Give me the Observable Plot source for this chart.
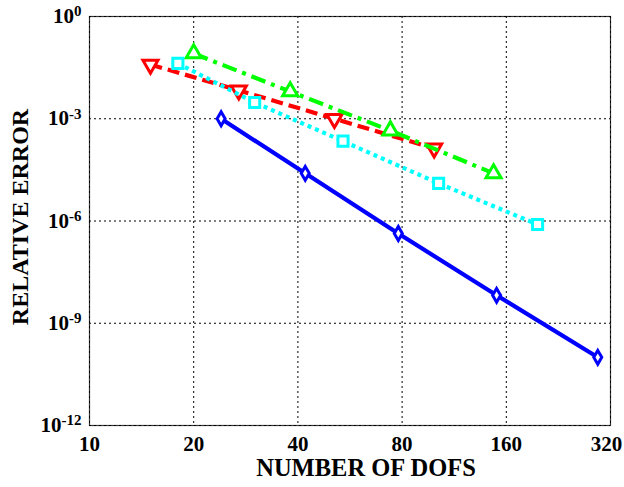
<!DOCTYPE html>
<html>
<head>
<meta charset="utf-8">
<script src="https://cdn.jsdelivr.net/npm/d3@7"></script>
<script src="https://cdn.jsdelivr.net/npm/@observablehq/plot@0.6"></script>
<style>
  html, body { margin: 0; padding: 0; background: #fff; }
  svg { display: block; }
</style>
</head>
<body>
<div id="chart"></div>
<script>
const xTicks = [10, 20, 40, 80, 160, 320];
const yTicks = [1e-12, 1e-9, 1e-6, 1e-3, 1];

const blueX = [24, 42, 78, 150, 294];
const blueY = [1.0e-3, 2.5e-5, 4.3e-7, 6.6e-9, 1.0e-10];
const redX = [15, 27, 51, 99];
const redY = [3.9e-2, 6.8e-3, 1.0e-3, 1.35e-4];
const greenX = [20, 38, 74, 147];
const greenY = [8.2e-2, 6.3e-3, 4.5e-4, 2.5e-5];
const cyanX = [18, 30, 54, 102, 197];
const cyanY = [4.2e-2, 3.0e-3, 2.2e-4, 1.27e-5, 7.9e-7];

const xLabel = "NUMBER OF DOFS";
const yLabel = "RELATIVE ERROR";

const toRows = (xs, ys) => xs.map((x, i) => ({x, y: ys[i]}));
const blue = toRows(blueX, blueY);
const red = toRows(redX, redY);
const green = toRows(greenX, greenY);
const cyan = toRows(cyanX, cyanY);

const series = [
  {data: blue, color: "#0000ff", dash: null, symbol: "diamond", r: 4.2, rotate: 0},
  {data: red, color: "#ff0000", dash: "12,6", symbol: "triangle", r: 5.6, rotate: 180},
  {data: green, color: "#00ff00", dash: "15,6,4,6", symbol: "triangle", r: 5.6, rotate: 0},
  {data: cyan, color: "#00ffff", dash: "4,4", symbol: "square", r: 5.7, rotate: 0}
];

const tickTextOpts = {text: d => String(d), frameAnchor: "bottom", dy: 25,
  lineAnchor: "bottom", textAnchor: "middle", fontSize: 21, fontWeight: "bold"};

const marks = [
  Plot.frame({stroke: "#333", strokeWidth: 1.2}),
  Plot.gridX(xTicks, {stroke: "#000", strokeOpacity: 1, strokeWidth: 1, strokeDasharray: "2,3"}),
  Plot.gridY(yTicks, {stroke: "#000", strokeOpacity: 1, strokeWidth: 1, strokeDasharray: "2,3"}),
  Plot.text(xTicks.slice(0, -1), {x: d => d, ...tickTextOpts}),
  Plot.text(xTicks.slice(-1), {x: d => d, ...tickTextOpts, dx: -4}),
  Plot.axisY(yTicks, {tickSize: 0, tickPadding: 8, tickFormat: d => String(Math.round(Math.log10(d))), fontSize: 21, label: null}),
];
for (const s of series) {
  marks.push(Plot.line(s.data, {x: "x", y: "y", stroke: s.color, strokeWidth: 4.2,
    strokeDasharray: s.dash || undefined, strokeLinecap: "butt", strokeLinejoin: "round"}));
  marks.push(Plot.dot(s.data, {x: "x", y: "y", symbol: s.symbol, r: s.r, rotate: s.rotate,
    stroke: s.color, strokeWidth: 3, fill: "white"}));
}
marks.push(Plot.text([xLabel], {frameAnchor: "bottom", text: d => d, dx: 16, dy: 50,
  lineAnchor: "bottom", textAnchor: "middle", fontSize: 24.5, fontWeight: "bold"}));
marks.push(Plot.text([yLabel], {frameAnchor: "left", text: d => d, dx: -62, dy: -4,
  rotate: -90, lineAnchor: "bottom", textAnchor: "middle", fontSize: 24, fontWeight: "bold"}));

const chart = Plot.plot({
  width: 624,
  height: 487,
  marginLeft: 89,
  marginRight: 14,
  marginTop: 16,
  marginBottom: 62,
  style: {fontFamily: "'Liberation Serif', 'Times New Roman', serif", fontWeight: "bold", color: "#000", background: "#fff"},
  x: {type: "log", domain: [10, 320], axis: null},
  y: {type: "log", domain: [1e-12, 1]},
  marks
});

// Render y tick labels as 10 with a superscript exponent
d3.select(chart).selectAll('g[aria-label="y-axis tick label"] text').each(function() {
  const t = d3.select(this);
  const exp = t.text();
  t.text(null);
  t.append("tspan").text("10");
  t.append("tspan").attr("dy", "-0.45em").attr("font-size", "15px").text(exp);
});

document.getElementById("chart").appendChild(chart);
</script>
</body>
</html>
